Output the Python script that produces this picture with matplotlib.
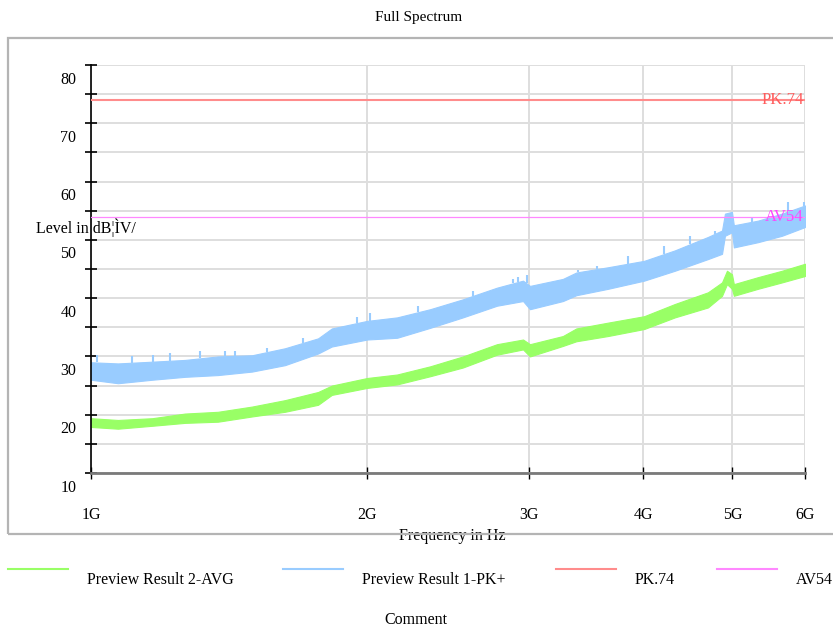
import matplotlib
matplotlib.use("Agg")
import matplotlib.pyplot as plt
import matplotlib.patches as patches
from matplotlib.lines import Line2D
from matplotlib.transforms import ScaledTranslation
import numpy as np

plt.rcParams['font.family'] = ['Liberation Serif', 'DejaVu Serif']

# frequencies in GHz, levels in dBuV (band edges)
pk_freq = [1.0, 1.07, 1.166, 1.266, 1.375, 1.498, 1.627, 1.768, 1.83, 2.0,
           2.156, 2.342, 2.543, 2.77, 2.957, 3.009, 3.268, 3.38, 3.66, 4.007,
           4.329, 4.703, 4.872, 4.908, 4.995, 5.019, 5.332, 5.663, 6.0]
pk_upper = [29.0, 28.8, 29.1, 29.4, 30.0, 30.2, 31.4, 33.1, 34.8, 36.1,
            36.7, 38.1, 39.8, 41.8, 43.0, 42.1, 43.3, 44.4, 45.3, 46.4,
            48.2, 50.5, 51.6, 54.5, 54.8, 52.5, 53.3, 54.5, 55.9]
pk_lower = [26.0, 25.4, 26.0, 26.5, 26.8, 27.4, 28.5, 30.5, 31.7, 32.9,
            33.2, 34.9, 36.7, 38.7, 39.5, 38.1, 39.5, 40.5, 41.6, 43.0,
            44.7, 46.7, 47.6, 50.7, 51.3, 48.7, 49.6, 50.7, 52.2]
# a few peak spikes sticking out of the PK trace
pk_spike_freq = [1.014, 1.108, 1.169, 1.219, 1.315, 1.400, 1.435, 1.554, 1.702,
                 1.799, 1.948, 2.014, 2.274, 2.610, 2.881, 2.922, 2.984, 3.397,
                 3.557, 3.851, 4.215, 4.495, 4.786, 5.249, 5.754, 5.98]
pk_spike_level = [30.2, 30.0, 30.2, 30.6, 30.9, 31.0, 30.9, 31.5, 33.2,
                  34.1, 36.8, 37.5, 38.7, 41.3, 43.3, 43.7, 43.9, 44.9,
                  45.5, 47.3, 49.0, 50.7, 51.6, 53.9, 56.5, 56.5]

avg_freq = [1.0, 1.07, 1.166, 1.266, 1.375, 1.498, 1.627, 1.768, 1.83, 2.0,
            2.156, 2.342, 2.543, 2.77, 2.957, 3.009, 3.268, 3.38, 3.66, 4.007,
            4.329, 4.703, 4.872, 4.933, 4.995, 5.019, 5.332, 5.663, 6.0]
avg_upper = [19.4, 19.1, 19.4, 20.2, 20.5, 21.4, 22.5, 23.9, 25.0, 26.3,
             26.9, 28.3, 30.0, 32.1, 32.9, 32.1, 33.5, 34.8, 35.8, 36.9,
             39.0, 41.0, 42.7, 44.7, 44.1, 42.4, 43.6, 44.7, 45.9]
avg_lower = [17.9, 17.6, 18.1, 18.6, 18.8, 19.7, 20.5, 21.7, 23.4, 24.6,
             25.2, 26.6, 28.1, 30.3, 31.2, 30.0, 31.8, 32.6, 33.5, 34.7,
             36.7, 38.4, 40.4, 42.4, 41.6, 40.4, 41.6, 42.7, 43.8]

pk_limit = 74
av_limit = 54

x_ticks = [1, 2, 3, 4, 5, 6]
x_labels = ['1G', '2G', '3G', '4G', '5G', '6G']
y_ticks = [10, 20, 30, 40, 50, 60, 70, 80]

c_pk = '#99ccff'
c_avg = '#99ff66'
c_pklim = '#ff8c8c'
c_avlim = '#ff88ff'

W, H = 833, 627
fig = plt.figure(figsize=(W / 100, H / 100), dpi=100)
ax = fig.add_axes([91 / W, 1 - 473 / H, (805 - 91) / W, (473 - 65) / H])

ax.set_xscale('log')
ax.set_xlim(1, 6)
ax.set_ylim(10, 80)

# grid
ax.set_yticks(y_ticks)
ax.set_yticks(np.arange(15, 80, 10), minor=True)
ax.set_xticks(x_ticks)
ax.set_xticklabels(x_labels)
ax.xaxis.set_minor_locator(matplotlib.ticker.NullLocator())
ax.grid(True, which='both', axis='y', color='#dedede', lw=1.4, zorder=0)
ax.grid(True, which='major', axis='x', color='#dedede', lw=1.4, zorder=0)

# traces
ax.fill_between(avg_freq, avg_lower, avg_upper, color=c_avg, lw=0.8,
                edgecolor=c_avg, zorder=2)
ax.fill_between(pk_freq, pk_lower, pk_upper, color=c_pk, lw=0.8,
                edgecolor=c_pk, zorder=2)
ax.vlines(pk_spike_freq, np.interp(pk_spike_freq, pk_freq, pk_upper),
          pk_spike_level, color=c_pk, lw=1.5, zorder=2)

# limit lines
ax.axhline(pk_limit, color=c_pklim, lw=1.5, zorder=3)
ax.axhline(av_limit, color=c_avlim, lw=0.9, zorder=3)
ax.text(0.9985, pk_limit, 'PK.74', transform=ax.get_yaxis_transform(),
        ha='right', va='center', color='#ff5c5c', fontsize=12)
ax.text(0.9985, av_limit, 'AV54', transform=ax.get_yaxis_transform(),
        ha='right', va='center', color='#ff44ff', fontsize=12)

# spines / ticks
for s in ['top', 'right']:
    ax.spines[s].set_visible(False)
ax.spines['left'].set_color('black')
ax.spines['left'].set_linewidth(1.2)
ax.spines['bottom'].set_color('#7a7a7a')
ax.spines['bottom'].set_linewidth(2)
ax.tick_params(axis='y', which='both', direction='inout', length=9,
               width=1.2, color='black', labelsize=11.5, pad=3)
ax.tick_params(axis='x', which='major', direction='inout', length=9,
               width=1, color='black', labelsize=11.5, pad=20)
for lab in ax.get_yticklabels():
    lab.set_transform(lab.get_transform() +
                      ScaledTranslation(-3 / 72, -9 / 72, fig.dpi_scale_trans))

# texts
fig.text(419 / W, 1 - 18 / H, 'Full Spectrum', ha='center', va='center',
         fontsize=11)
fig.text(36 / W, 1 - 228 / H, 'Level in dB¦ÌV/', ha='left', va='center',
         fontsize=11.5)
fig.text(452 / W, 1 - 536 / H, 'Frequency in Hz', ha='center', va='center',
         fontsize=11.5)
fig.text(416 / W, 1 - 620 / H, 'Comment', ha='center', va='center',
         fontsize=11.5)

# outer frame
frame = patches.Rectangle((8 / W, 1 - 534 / H), 1.0, (534 - 38) / H,
                          transform=fig.transFigure, facecolor='none',
                          edgecolor='#b4b4b4', lw=1.6, zorder=10)
fig.patches.append(frame)

# legend
legend_names = ['Preview Result 2-AVG', 'Preview Result 1-PK+', 'PK.74', 'AV54']
legend_colors = [c_avg, c_pk, c_pklim, c_avlim]
legend_x = [8, 283, 556, 717]
for name, col, x0 in zip(legend_names, legend_colors, legend_x):
    fig.add_artist(Line2D([x0 / W, (x0 + 60) / W], [1 - 569 / H, 1 - 569 / H],
                          transform=fig.transFigure, color=col, lw=1.5))
    fig.text((x0 + 79) / W, 1 - 580 / H, name, ha='left', va='center',
             fontsize=11.5)

fig.savefig('out.png', dpi=100)
